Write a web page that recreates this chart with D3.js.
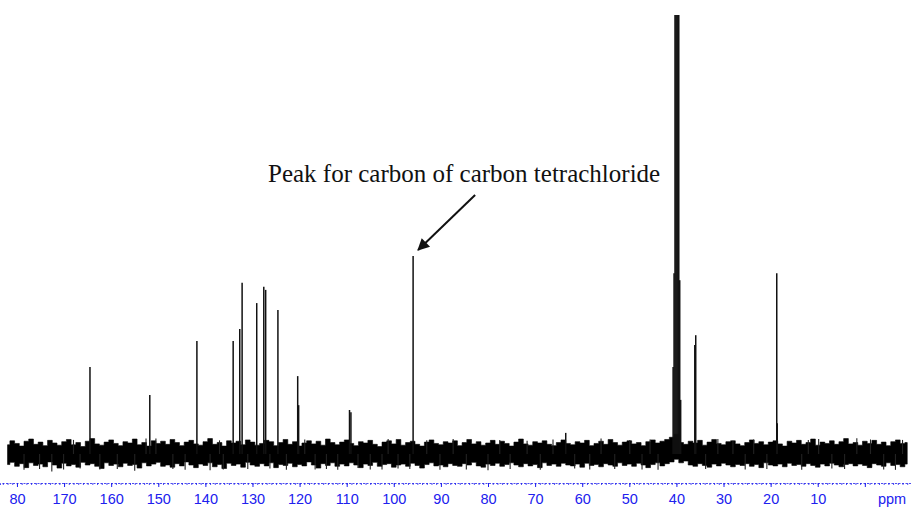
<!DOCTYPE html>
<html>
<head>
<meta charset="utf-8">
<script src="https://d3js.org/d3.v7.min.js"></script>
<style>
  body { margin: 0; background: #fff; }
  .axis-text { font-family: "Liberation Sans", Arial, sans-serif; font-size: 14.5px; fill: #2020ee; }
  .note { font-family: "Liberation Serif", "Times New Roman", serif; font-size: 25px; fill: #111; }
</style>
</head>
<body>
<svg id="chart" width="911" height="509"></svg>
<script>
// peaks: chemical shift (ppm) and relative height
const peakPpm = [164.5, 151.8, 141.8, 134.1, 132.7, 132.2, 129.1, 127.6, 127.2, 124.6,
                 120.4, 120.2, 109.4, 109.1, 95.9, 63.5,
                 40.7, 40.5, 40.3, 40.1, 39.9, 39.7, 39.5, 39.3, 39.1,
                 36.1, 35.9, 18.7, 18.6];
const peakHeight = [19.8, 13.4, 25.7, 25.7, 28.4, 38.9, 34.3, 38.0, 37.3, 32.7,
                    17.7, 11.1, 10.0, 9.5, 45.0, 4.8,
                    19.8, 41.1, 110, 110, 110, 110, 110, 39.5, 12.3,
                    24.8, 27.0, 41.1, 7.0];

// baseline noise envelope, one value per ppm starting at 182 ppm
const noiseHi = [2.1,3.0,2.4,1.8,2.9,3.4,2.2,2.7,1.9,3.1,2.5,2.0,
                 2.8,3.3,2.1,2.6,1.7,2.9,3.5,2.3,2.0,2.7,3.2,2.4,
                 1.9,2.8,2.5,3.4,2.1,2.6,1.8,3.0,2.4,2.9,2.2,3.3,
                 2.6,1.9,2.7,3.1,2.3,2.0,2.8,3.5,2.2,2.6,1.8,3.0,
                 2.5,2.9,2.1,3.2,2.7,2.0,2.4,3.1,2.8,1.9,2.6,3.3,
                 2.2,2.8,1.8,2.5,3.0,2.3,2.9,2.0,3.4,2.6,2.1,2.7,
                 3.2,2.4,1.9,2.8,2.5,3.1,2.2,1.7,2.7,3.0,2.3,3.3,
                 2.0,2.6,2.9,2.2,1.8,2.7,3.2,2.4,2.1,2.8,2.5,3.0,
                 1.9,2.6,3.3,2.3,2.8,2.0,2.5,3.1,2.2,2.9,2.4,1.8,
                 2.7,3.4,2.3,2.0,2.8,2.5,3.0,2.2,1.9,2.6,3.2,2.4,
                 2.1,2.8,2.5,3.1,1.9,2.4,2.9,2.2,3.3,2.6,2.0,2.7,
                 3.0,2.3,2.6,1.9,2.8,3.2,2.5,2.9,3.3,3.8,4.5,2.6,
                 2.2,2.9,2.5,3.1,2.0,2.7,3.3,2.4,2.1,2.8,3.0,2.3,
                 1.9,2.6,3.2,2.4,2.8,2.1,2.7,3.0,2.3,1.8,2.9,2.5,
                 3.1,2.2,2.6,3.4,2.0,2.7,2.4,3.0,2.2,2.8,3.5,2.3,
                 2.6,2.0,2.9,2.4,3.1,2.2,2.7,1.9,2.8,3.2,2.4,2.6];
const noiseLo = [-2.4,-1.9,-2.8,-2.2,-3.1,-2.0,-2.6,-2.3,-2.9,-1.8,-2.5,-3.2,
                 -2.1,-2.7,-2.4,-3.0,-1.9,-2.5,-2.2,-2.8,-3.3,-2.0,-2.6,-2.3,
                 -2.9,-2.1,-2.6,-2.4,-3.2,-2.0,-2.7,-2.3,-1.9,-2.8,-2.5,-3.0,
                 -2.2,-2.7,-1.8,-2.5,-3.1,-2.3,-2.6,-2.0,-2.9,-2.4,-3.3,-2.1,
                 -2.6,-2.3,-3.0,-1.9,-2.5,-2.8,-2.2,-2.7,-2.0,-3.1,-2.4,-2.6,
                 -2.1,-2.9,-2.4,-2.7,-1.8,-2.5,-3.2,-2.2,-2.6,-2.0,-2.8,-2.3,
                 -2.7,-2.0,-2.5,-3.1,-2.3,-2.6,-1.9,-2.8,-2.4,-2.2,-3.0,-2.5,
                 -2.3,-2.8,-2.1,-2.6,-3.2,-2.4,-2.0,-2.7,-2.5,-2.9,-2.2,-2.6,
                 -2.8,-2.2,-2.5,-1.9,-2.7,-3.0,-2.3,-2.6,-2.1,-2.8,-2.4,-2.0,
                 -2.5,-2.9,-2.2,-2.7,-2.4,-3.1,-2.0,-2.6,-2.3,-2.8,-2.1,-2.5,
                 -2.7,-2.3,-3.0,-2.1,-2.6,-2.4,-2.9,-2.2,-2.5,-2.8,-2.0,-2.6,
                 -2.3,-2.8,-2.1,-2.5,-3.1,-2.4,-2.0,-2.7,-2.2,-1.8,-1.2,-2.0,
                 -1.6,-2.5,-2.8,-2.2,-2.6,-3.0,-2.3,-2.7,-2.1,-2.5,-2.9,-2.4,
                 -2.6,-2.2,-2.8,-2.4,-3.1,-2.0,-2.5,-2.7,-2.3,-2.9,-2.1,-2.6,
                 -2.4,-2.8,-2.2,-2.6,-3.0,-2.3,-2.7,-2.1,-2.5,-2.9,-2.4,-2.2,
                 -2.7,-2.3,-2.6,-3.1,-2.2,-2.5,-2.8,-2.0,-2.6,-2.4,-2.9,-2.3];

// isolated noise spikes (ppm, height)
const spikePpm = [178.5,175.2,172.6,170.1,166.6,162.4,158.7,155.0,146.9,144.3,139.0,136.2,
                  131.0,126.3,122.8,116.7,114.3,111.9,107.6,105.0,102.5,99.1,96.6,90.2,
                  84.6,80.0,75.3,68.9,61.6,58.4,53.1,47.3,43.9,33.8,25.4,20.8,13.4,7.0,4.3,-4.0,-6.5,
                  168.0,152.6,150.5,137.0,118.9,101.2,93.0,87.4,77.5,71.7,66.2,56.0,49.9,45.6,
                  31.2,28.0,23.6,12.0,9.8,1.7,-1.2,-8.0];
const spikeHeight = [-3.6,-3.4,-4.0,-3.5,-3.3,-3.5,-3.4,-3.8,-3.4,-3.6,-3.7,-3.5,
                     -3.4,-3.3,-3.6,-3.5,-3.4,-3.6,-3.2,-3.5,-3.5,-3.3,-3.4,-3.6,
                     -3.5,-3.7,-3.4,-3.6,-3.3,-3.5,-3.4,-3.5,-3.6,-3.4,-3.5,-3.4,-3.6,-3.3,-3.4,-3.5,-3.6,
                     3.2,3.5,3.5,3.1,3.3,3.4,3.1,3.4,3.2,3.0,3.3,3.5,3.2,3.3,
                     3.4,3.0,3.3,3.2,3.4,3.6,3.3,3.2];

const majorTicks = [180,170,160,150,140,130,120,110,100,90,80,70,60,50,40,30,20,10,0];
const tickLabels = ["80","170","160","150","140","130","120","110","100","90",
                    "80","70","60","50","40","30","20","10",""];
const unitLabel = "ppm";
const noteText = "Peak for carbon of carbon tetrachloride";
const notePeak = 95.9;

const W = 911, H = 509;
const axisY = 483;
const blue = "#2020ee";

const xs = d3.scaleLinear().domain([183.6, -9.8]).range([0, W]);
const ys = d3.scaleLinear().domain([0, 100]).range([454, 14]);

const svg = d3.select("#chart");
const defs = svg.append("defs");

defs.append("clipPath").attr("id", "plotClip")
  .append("rect").attr("x", 0).attr("y", 15).attr("width", W).attr("height", H - 15);

defs.append("marker")
  .attr("id", "arrow")
  .attr("markerUnits", "userSpaceOnUse")
  .attr("viewBox", "0 -5 10 10")
  .attr("refX", 9).attr("refY", 0)
  .attr("markerWidth", 16).attr("markerHeight", 12)
  .attr("orient", "auto")
  .append("path").attr("d", "M0,-5L10,0L0,5Z").attr("fill", "#111");

const plot = svg.append("g").attr("clip-path", "url(#plotClip)");

// noise band
const noise = noiseHi.map((h, i) => ({ ppm: 182 - i, hi: h, lo: noiseLo[i] }));
plot.append("path")
  .datum(noise)
  .attr("fill", "#000")
  .attr("stroke", "#000")
  .attr("stroke-width", 0.6)
  .attr("d", d3.area()
    .curve(d3.curveStep)
    .x(d => xs(d.ppm))
    .y0(d => ys(d.lo))
    .y1(d => ys(d.hi)));

plot.selectAll("line.spike")
  .data(spikePpm)
  .join("line")
  .attr("class", "spike")
  .attr("x1", d => xs(d)).attr("x2", d => xs(d))
  .attr("y1", ys(0))
  .attr("y2", (d, i) => ys(spikeHeight[i]))
  .attr("stroke", "#222")
  .attr("stroke-width", 1.1);

// peaks
plot.selectAll("line.peak")
  .data(peakPpm)
  .join("line")
  .attr("class", "peak")
  .attr("x1", d => xs(d)).attr("x2", d => xs(d))
  .attr("y1", ys(0))
  .attr("y2", (d, i) => ys(peakHeight[i]))
  .attr("stroke", "#111")
  .attr("stroke-width", 1.5);

// axis: minor ticks every ppm, labelled ticks every 10
const minor = d3.range(183, -10, -1);
svg.append("g")
  .attr("transform", `translate(0,${axisY})`)
  .call(d3.axisBottom(xs).tickValues(minor).tickSize(2).tickFormat(""))
  .call(g => g.select(".domain").attr("stroke", blue).attr("stroke-width", 0.8).attr("stroke-dasharray", "2,1.5"))
  .call(g => g.selectAll(".tick line").attr("stroke", blue).attr("stroke-width", 0.8));

svg.append("g")
  .attr("transform", `translate(0,${axisY})`)
  .call(d3.axisBottom(xs).tickValues(majorTicks).tickSize(4).tickFormat((d, i) => tickLabels[i]))
  .call(g => g.select(".domain").remove())
  .call(g => g.selectAll(".tick line").attr("stroke", blue).attr("stroke-width", 1))
  .call(g => g.selectAll(".tick text")
    .attr("class", "axis-text")
    .attr("y", 21).attr("dy", null)
    .attr("font-size", null).attr("font-family", null).attr("fill", null));

svg.append("text")
  .attr("class", "axis-text")
  .attr("x", 892).attr("y", axisY + 21)
  .attr("text-anchor", "middle")
  .text(unitLabel);

// annotation
svg.append("text")
  .attr("class", "note")
  .attr("x", 268).attr("y", 182)
  .text(noteText);

const pi = peakPpm.indexOf(notePeak);
const tipX = xs(notePeak) + 5, tipY = ys(peakHeight[pi]) - 6;
svg.append("line")
  .attr("x1", tipX + 57).attr("y1", tipY - 55)
  .attr("x2", tipX).attr("y2", tipY)
  .attr("stroke", "#111")
  .attr("stroke-width", 2)
  .attr("marker-end", "url(#arrow)");
</script>
</body>
</html>
